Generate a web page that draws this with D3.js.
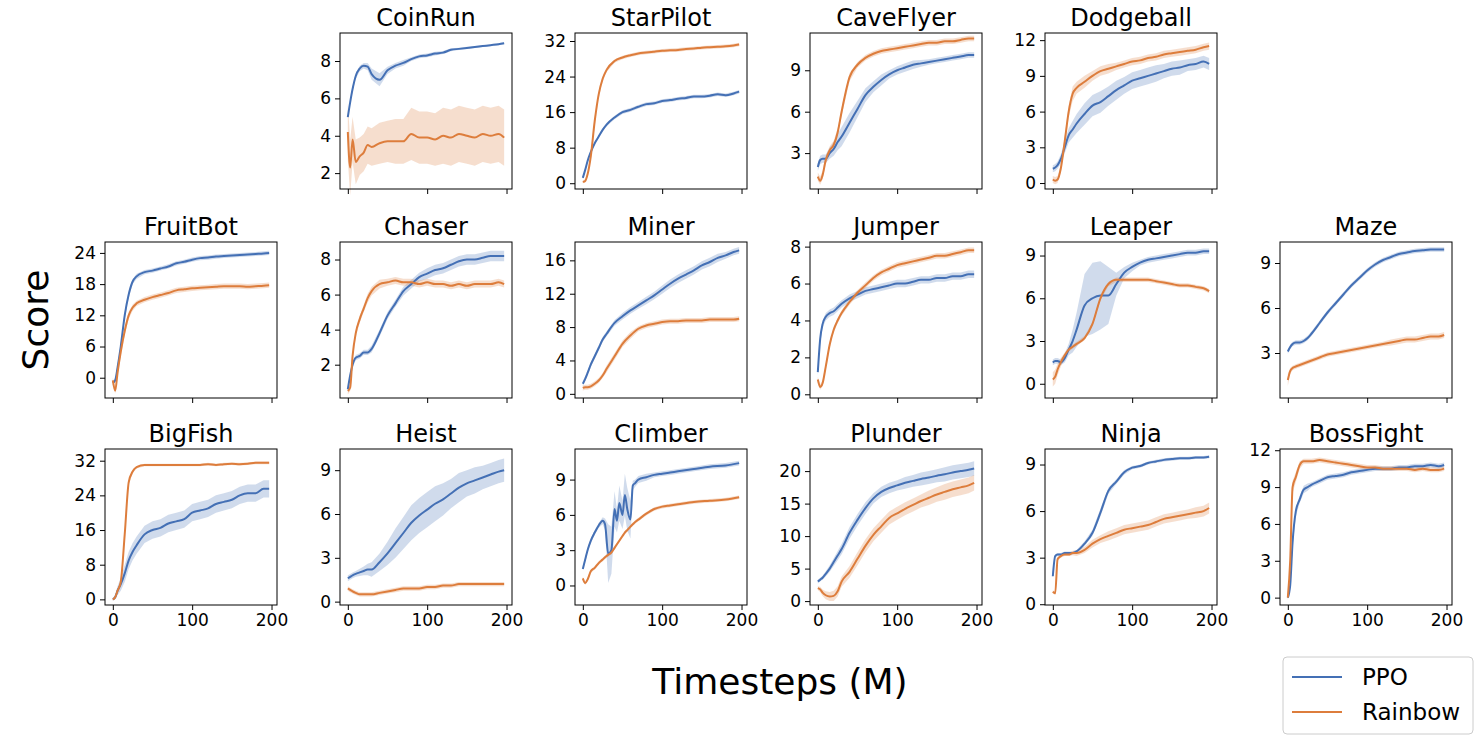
<!DOCTYPE html>
<html>
<head>
<meta charset="utf-8">
<script src="https://cdn.jsdelivr.net/npm/d3@7"></script>
<style>
  body { margin: 0; background: #fff; }
  text { font-family: "DejaVu Sans", sans-serif; fill: #000; }
</style>
</head>
<body>
<svg id="chart" width="1479" height="745"></svg>
<script>
// shared timestep grid (M)
const steps = [0, 3, 6, 10, 15, 20, 25, 30, 40, 50, 60, 70, 80, 90, 100, 110, 120, 130, 140, 150, 160, 170, 180, 190, 197];
const climberSteps = [0, 3, 6, 10, 15, 20, 25, 28, 32, 36, 40, 43, 46, 50, 53, 56, 60, 63, 66, 70, 80, 90, 100, 110, 120, 140, 160, 180, 197];

const games = ["CoinRun", "StarPilot", "CaveFlyer", "Dodgeball",
  "FruitBot", "Chaser", "Miner", "Jumper", "Leaper", "Maze",
  "BigFish", "Heist", "Climber", "Plunder", "Ninja", "BossFight"];

const yTicks = {
  CoinRun: [2, 4, 6, 8], StarPilot: [0, 8, 16, 24, 32], CaveFlyer: [3, 6, 9], Dodgeball: [0, 3, 6, 9, 12],
  FruitBot: [0, 6, 12, 18, 24], Chaser: [2, 4, 6, 8], Miner: [0, 4, 8, 12, 16], Jumper: [0, 2, 4, 6, 8],
  Leaper: [0, 3, 6, 9], Maze: [3, 6, 9], BigFish: [0, 8, 16, 24, 32], Heist: [0, 3, 6, 9],
  Climber: [0, 3, 6, 9], Plunder: [0, 5, 10, 15, 20], Ninja: [0, 3, 6, 9], BossFight: [0, 3, 6, 9, 12]
};

const yRange = {
  CoinRun: [1.15, 9.5], StarPilot: [-1.3, 33.8], CaveFlyer: [0.4, 11.7], Dodgeball: [-0.5, 12.6],
  FruitBot: [-3.9, 26.1], Chaser: [0.1, 9.0], Miner: [-0.5, 18.2], Jumper: [-0.2, 8.25],
  Leaper: [-1.0, 9.95], Maze: [0.0, 10.4], BigFish: [-1.3, 34.7], Heist: [-0.23, 10.45],
  Climber: [-1.66, 11.6], Plunder: [-0.6, 23.4], Ninja: [-0.05, 10.0], BossFight: [-0.6, 12.1]
};

// mean score and half-width of the shaded band, per game
const ppoMean = {
  CoinRun: [5.0, 5.8, 6.5, 7.2, 7.6, 7.75, 7.7, 7.3, 7.0, 7.5, 7.75, 7.9, 8.1, 8.25, 8.3, 8.4, 8.45, 8.6, 8.65, 8.7, 8.75, 8.8, 8.85, 8.9, 8.95],
  StarPilot: [1.2, 3, 5, 7, 9, 10.5, 12, 13.2, 14.8, 16, 16.5, 17.2, 17.8, 18, 18.5, 18.7, 19, 19.2, 19.5, 19.5, 19.7, 20, 19.8, 20.2, 20.6],
  CaveFlyer: [2.0, 2.5, 2.6, 2.6, 3.0, 3.3, 3.8, 4.2, 5.2, 6.2, 7.2, 7.8, 8.3, 8.7, 9.0, 9.2, 9.4, 9.5, 9.6, 9.7, 9.8, 9.9, 10, 10.1, 10.1],
  Dodgeball: [1.2, 1.3, 1.5, 2.0, 3.0, 4.0, 4.5, 5.0, 5.8, 6.5, 6.8, 7.3, 7.8, 8.2, 8.6, 8.8, 9.0, 9.2, 9.4, 9.6, 9.7, 9.9, 10, 10.2, 10.0],
  FruitBot: [-1.0, -0.5, 2, 6, 12, 16, 18.5, 19.5, 20.3, 20.6, 21.0, 21.4, 22.0, 22.3, 22.7, 23.0, 23.1, 23.3, 23.4, 23.5, 23.6, 23.7, 23.8, 23.9, 24.0],
  Chaser: [0.6, 1.4, 2.0, 2.4, 2.5, 2.7, 2.7, 2.9, 3.8, 4.8, 5.5, 6.2, 6.6, 7.0, 7.2, 7.4, 7.5, 7.7, 7.9, 8.0, 8.0, 8.1, 8.2, 8.2, 8.2],
  Miner: [1.2, 1.8, 2.5, 3.5, 4.5, 5.5, 6.5, 7.2, 8.5, 9.3, 10, 10.6, 11.2, 11.8, 12.5, 13.2, 13.8, 14.3, 14.8, 15.4, 15.8, 16.3, 16.6, 17.0, 17.2],
  Jumper: [1.2, 3.0, 3.8, 4.2, 4.4, 4.5, 4.7, 4.9, 5.2, 5.4, 5.6, 5.7, 5.8, 5.9, 6.0, 6.0, 6.1, 6.2, 6.2, 6.3, 6.3, 6.4, 6.4, 6.5, 6.5],
  Leaper: [1.5, 1.6, 1.6, 1.5, 1.8, 2.4, 3.0, 3.8, 5.5, 6.0, 6.2, 6.2, 7.0, 7.8, 8.2, 8.5, 8.7, 8.8, 8.9, 9.0, 9.1, 9.2, 9.2, 9.3, 9.3],
  Maze: [3.1, 3.4, 3.6, 3.7, 3.7, 3.8, 4.0, 4.3, 5.0, 5.7, 6.3, 6.9, 7.5, 8.0, 8.5, 8.9, 9.2, 9.4, 9.6, 9.7, 9.8, 9.85, 9.9, 9.9, 9.9],
  BigFish: [0, 0.5, 2, 3.5, 6, 9, 11, 12.5, 15, 16, 16.5, 17.5, 18, 18.5, 20, 20.5, 21, 22, 22.5, 23, 24, 24.5, 24.5, 25.5, 25.5],
  Heist: [1.6, 1.7, 1.8, 1.9, 2.0, 2.1, 2.2, 2.2, 2.7, 3.3, 4.0, 4.7, 5.4, 5.9, 6.3, 6.7, 7.0, 7.4, 7.8, 8.1, 8.3, 8.5, 8.7, 8.9, 9.0],
  Climber: [1.4, 2.2, 3.0, 3.8, 4.5, 5.1, 5.5, 5.2, 2.7, 3.0, 6.5, 5.5, 7.0, 6.0, 7.7, 6.5, 5.6, 8.5, 8.7, 9.0, 9.2, 9.4, 9.5, 9.6, 9.7, 9.9, 10.1, 10.2, 10.4],
  Plunder: [3.0, 3.3, 3.6, 4.2, 5.0, 6.0, 7.0, 8.0, 10.5, 12.5, 14.3, 15.8, 16.8, 17.4, 17.8, 18.2, 18.5, 18.8, 19.0, 19.3, 19.5, 19.8, 20.0, 20.2, 20.4],
  Ninja: [1.8, 3.1, 3.2, 3.2, 3.3, 3.3, 3.3, 3.4, 3.9, 4.6, 5.9, 7.3, 7.9, 8.5, 8.8, 8.9, 9.1, 9.2, 9.3, 9.35, 9.4, 9.4, 9.45, 9.45, 9.5],
  BossFight: [0, 1, 4.5, 7.0, 8.0, 8.8, 9.0, 9.2, 9.5, 9.8, 9.9, 10.0, 10.2, 10.3, 10.4, 10.5, 10.5, 10.5, 10.6, 10.6, 10.7, 10.7, 10.8, 10.7, 10.8]
};
const ppoBand = {
  CoinRun: [0.05, 0.1, 0.15, 0.15, 0.15, 0.15, 0.2, 0.3, 0.35, 0.2, 0.15, 0.15, 0.1, 0.1, 0.1, 0.1, 0.08, 0.08, 0.06, 0.06, 0.05, 0.05, 0.05, 0.05, 0.05],
  StarPilot: [0.3, 0.3, 0.3, 0.3, 0.3, 0.3, 0.3, 0.4, 0.4, 0.4, 0.4, 0.4, 0.4, 0.4, 0.4, 0.4, 0.4, 0.4, 0.4, 0.4, 0.4, 0.4, 0.4, 0.4, 0.4],
  CaveFlyer: [0.3, 0.3, 0.3, 0.3, 0.4, 0.5, 0.6, 0.7, 0.7, 0.6, 0.5, 0.4, 0.4, 0.3, 0.3, 0.3, 0.3, 0.25, 0.2, 0.2, 0.2, 0.2, 0.2, 0.2, 0.2],
  Dodgeball: [0.3, 0.3, 0.3, 0.4, 0.5, 0.6, 0.7, 0.8, 0.9, 0.9, 0.9, 0.8, 0.8, 0.7, 0.7, 0.7, 0.7, 0.7, 0.6, 0.6, 0.6, 0.5, 0.5, 0.5, 0.5],
  FruitBot: [0.4, 0.4, 0.5, 0.6, 0.7, 0.6, 0.5, 0.5, 0.4, 0.4, 0.4, 0.4, 0.4, 0.4, 0.4, 0.4, 0.4, 0.4, 0.4, 0.4, 0.4, 0.4, 0.4, 0.4, 0.4],
  Chaser: [0.15, 0.15, 0.15, 0.15, 0.15, 0.15, 0.15, 0.2, 0.2, 0.2, 0.2, 0.25, 0.25, 0.25, 0.3, 0.3, 0.3, 0.3, 0.3, 0.3, 0.3, 0.3, 0.3, 0.3, 0.3],
  Miner: [0.3, 0.3, 0.3, 0.3, 0.3, 0.3, 0.3, 0.3, 0.35, 0.4, 0.4, 0.4, 0.45, 0.45, 0.5, 0.5, 0.5, 0.5, 0.5, 0.5, 0.5, 0.5, 0.4, 0.4, 0.4],
  Jumper: [0.2, 0.2, 0.2, 0.2, 0.2, 0.2, 0.2, 0.2, 0.2, 0.2, 0.2, 0.2, 0.2, 0.2, 0.2, 0.2, 0.2, 0.2, 0.2, 0.2, 0.2, 0.2, 0.2, 0.2, 0.2],
  Leaper: [0.2, 0.2, 0.2, 0.2, 0.3, 0.4, 0.8, 1.2, 2.2, 2.5, 2.4, 2.0, 0.8, 0.4, 0.3, 0.2, 0.2, 0.2, 0.2, 0.2, 0.2, 0.2, 0.2, 0.2, 0.2],
  Maze: [0.15, 0.15, 0.15, 0.15, 0.15, 0.15, 0.15, 0.15, 0.15, 0.15, 0.15, 0.15, 0.15, 0.15, 0.15, 0.15, 0.15, 0.15, 0.15, 0.15, 0.15, 0.15, 0.15, 0.15, 0.15],
  BigFish: [0.3, 0.5, 1, 1.5, 2, 2, 2, 2, 2, 2, 2, 2, 2, 2, 2, 2, 2, 2, 2, 2, 2, 2, 2, 2, 2],
  Heist: [0.2, 0.2, 0.2, 0.2, 0.25, 0.3, 0.4, 0.5, 0.6, 0.8, 1.0, 1.1, 1.2, 1.2, 1.2, 1.2, 1.1, 1.0, 1.0, 0.9, 0.9, 0.8, 0.8, 0.8, 0.8],
  Climber: [0.1, 0.2, 0.2, 0.2, 0.2, 0.2, 0.3, 0.5, 2.5, 2.0, 1.5, 1.0, 1.5, 1.2, 1.8, 1.8, 1.6, 0.4, 0.3, 0.3, 0.3, 0.2, 0.2, 0.2, 0.2, 0.2, 0.2, 0.2, 0.2],
  Plunder: [0.3, 0.3, 0.3, 0.4, 0.5, 0.6, 0.7, 0.8, 0.9, 0.9, 0.9, 0.8, 0.8, 0.8, 0.8, 0.9, 0.9, 1.0, 1.0, 1.0, 1.1, 1.1, 1.1, 1.1, 1.1],
  Ninja: [0.1, 0.1, 0.1, 0.1, 0.1, 0.1, 0.1, 0.1, 0.15, 0.2, 0.25, 0.2, 0.15, 0.15, 0.1, 0.1, 0.1, 0.1, 0.1, 0.1, 0.1, 0.1, 0.1, 0.1, 0.1],
  BossFight: [0.2, 0.3, 0.5, 0.4, 0.3, 0.3, 0.3, 0.2, 0.2, 0.2, 0.2, 0.2, 0.2, 0.2, 0.2, 0.2, 0.2, 0.2, 0.2, 0.2, 0.2, 0.2, 0.2, 0.2, 0.2]
};
const rainbowMean = {
  CoinRun: [4.2, 2.3, 3.8, 2.6, 2.9, 3.1, 3.5, 3.4, 3.6, 3.7, 3.7, 3.7, 4.1, 3.9, 3.9, 3.8, 4.0, 3.9, 4.1, 4.0, 3.9, 4.1, 4.0, 4.1, 3.9],
  StarPilot: [0.3, 0.5, 2, 6, 14, 20, 23.5, 25.5, 27.5, 28.3, 28.8, 29.2, 29.4, 29.6, 29.8, 29.9, 30, 30.2, 30.3, 30.5, 30.6, 30.7, 30.8, 31, 31.2],
  CaveFlyer: [1.3, 1.0, 1.4, 2.5, 3.2, 3.6, 4.5, 6, 8.5, 9.4, 9.9, 10.2, 10.4, 10.5, 10.6, 10.7, 10.8, 10.9, 11.0, 11.0, 11.1, 11.1, 11.2, 11.3, 11.3],
  Dodgeball: [0.3, 0.2, 0.3, 1.2, 3.5, 6.0, 7.5, 8.0, 8.5, 9.0, 9.4, 9.6, 9.8, 10.0, 10.2, 10.3, 10.5, 10.6, 10.8, 10.9, 11.0, 11.1, 11.2, 11.4, 11.5],
  FruitBot: [-0.5, -2.5, 1, 5, 9, 12, 13.5, 14.3, 15.0, 15.5, 15.9, 16.3, 16.8, 17.0, 17.2, 17.3, 17.4, 17.5, 17.6, 17.6, 17.6, 17.5, 17.6, 17.7, 17.8],
  Chaser: [0.5, 0.7, 2.5, 3.8, 4.6, 5.2, 5.8, 6.2, 6.6, 6.7, 6.8, 6.7, 6.7, 6.6, 6.7, 6.6, 6.6, 6.5, 6.6, 6.5, 6.6, 6.6, 6.6, 6.7, 6.6],
  Miner: [0.7, 0.8, 0.8, 0.9, 1.2, 1.6, 2.2, 3.0, 4.5, 6.0, 7.0, 7.8, 8.2, 8.4, 8.6, 8.7, 8.7, 8.8, 8.8, 8.8, 8.9, 8.9, 8.9, 8.9, 9.0],
  Jumper: [0.8, 0.4, 0.6, 1.5, 2.7, 3.5, 4.0, 4.4, 5.0, 5.5, 5.9, 6.3, 6.6, 6.8, 7.0, 7.1, 7.2, 7.3, 7.4, 7.5, 7.5, 7.6, 7.7, 7.8, 7.8],
  Leaper: [0.3, 0.5, 1.0, 1.5, 2.0, 2.4, 2.6, 2.8, 3.2, 4.2, 6.0, 7.0, 7.3, 7.3, 7.3, 7.3, 7.3, 7.2, 7.1, 7.0, 6.9, 6.9, 6.8, 6.7, 6.5],
  Maze: [1.2, 1.8, 2.0, 2.1, 2.2, 2.3, 2.4, 2.5, 2.7, 2.9, 3.0, 3.1, 3.2, 3.3, 3.4, 3.5, 3.6, 3.7, 3.8, 3.9, 3.9, 4.0, 4.1, 4.1, 4.2],
  BigFish: [0, 0.5, 2, 4, 15, 27, 29.5, 30.5, 31, 31, 31, 31, 31, 31, 31, 31, 31.2, 31, 31.2, 31.3, 31.2, 31.3, 31.5, 31.5, 31.5],
  Heist: [0.9, 0.8, 0.7, 0.6, 0.5, 0.5, 0.5, 0.5, 0.6, 0.7, 0.8, 0.9, 0.9, 0.9, 1.0, 1.0, 1.1, 1.1, 1.2, 1.2, 1.2, 1.2, 1.2, 1.2, 1.2],
  Climber: [0.6, 0.2, 0.5, 1.2, 1.5, 1.9, 2.2, 2.4, 2.6, 2.8, 3.2, 3.5, 3.8, 4.2, 4.5, 4.7, 5.0, 5.2, 5.4, 5.6, 6.1, 6.5, 6.7, 6.8, 6.9, 7.1, 7.2, 7.3, 7.5],
  Plunder: [2.0, 1.8, 1.3, 0.9, 0.7, 0.8, 1.5, 3.0, 4.5, 6.5, 8.5, 10.2, 11.5, 12.8, 13.5, 14.2, 14.8, 15.4, 15.9, 16.4, 16.8, 17.2, 17.5, 17.8, 18.2],
  Ninja: [0.8, 0.7, 2.9, 3.1, 3.2, 3.2, 3.3, 3.3, 3.5, 3.9, 4.2, 4.4, 4.6, 4.8, 4.9, 5.0, 5.1, 5.3, 5.5, 5.6, 5.7, 5.8, 5.9, 6.0, 6.2],
  BossFight: [0, 3, 9.0, 9.8, 10.8, 11.1, 11.1, 11.1, 11.2, 11.1, 11.0, 10.9, 10.8, 10.7, 10.6, 10.6, 10.5, 10.5, 10.5, 10.5, 10.4, 10.5, 10.4, 10.4, 10.5]
};
const rainbowBand = {
  CoinRun: [1.5, 1.5, 1.2, 1.2, 1.0, 1.0, 1.0, 1.0, 1.1, 1.1, 1.2, 1.2, 1.4, 1.4, 1.4, 1.4, 1.5, 1.5, 1.5, 1.5, 1.5, 1.5, 1.5, 1.5, 1.5],
  StarPilot: [0.3, 0.4, 0.5, 0.8, 1.0, 0.8, 0.6, 0.5, 0.4, 0.4, 0.4, 0.4, 0.4, 0.4, 0.4, 0.4, 0.4, 0.4, 0.4, 0.4, 0.4, 0.4, 0.4, 0.4, 0.4],
  CaveFlyer: [0.3, 0.3, 0.3, 0.3, 0.3, 0.3, 0.3, 0.3, 0.3, 0.2, 0.2, 0.2, 0.2, 0.2, 0.2, 0.2, 0.2, 0.2, 0.2, 0.2, 0.2, 0.2, 0.2, 0.2, 0.2],
  Dodgeball: [0.3, 0.3, 0.3, 0.3, 0.4, 0.5, 0.6, 0.5, 0.5, 0.4, 0.4, 0.4, 0.3, 0.3, 0.3, 0.3, 0.3, 0.3, 0.3, 0.3, 0.3, 0.3, 0.3, 0.3, 0.3],
  FruitBot: [0.5, 0.6, 0.7, 0.8, 0.8, 0.7, 0.6, 0.5, 0.5, 0.5, 0.5, 0.5, 0.5, 0.5, 0.5, 0.5, 0.5, 0.5, 0.5, 0.5, 0.5, 0.5, 0.5, 0.5, 0.5],
  Chaser: [0.2, 0.2, 0.2, 0.2, 0.2, 0.2, 0.25, 0.25, 0.25, 0.2, 0.2, 0.2, 0.2, 0.2, 0.2, 0.2, 0.2, 0.2, 0.2, 0.2, 0.2, 0.2, 0.2, 0.2, 0.2],
  Miner: [0.3, 0.3, 0.3, 0.3, 0.3, 0.3, 0.3, 0.4, 0.4, 0.4, 0.4, 0.3, 0.3, 0.3, 0.3, 0.3, 0.3, 0.3, 0.3, 0.3, 0.3, 0.3, 0.3, 0.3, 0.3],
  Jumper: [0.15, 0.15, 0.15, 0.15, 0.15, 0.15, 0.15, 0.15, 0.15, 0.15, 0.15, 0.15, 0.15, 0.15, 0.15, 0.15, 0.15, 0.15, 0.15, 0.15, 0.15, 0.15, 0.15, 0.15, 0.15],
  Leaper: [0.5, 0.5, 0.4, 0.3, 0.2, 0.15, 0.15, 0.15, 0.15, 0.15, 0.15, 0.15, 0.15, 0.15, 0.15, 0.15, 0.15, 0.15, 0.15, 0.15, 0.15, 0.15, 0.15, 0.15, 0.15],
  Maze: [0.4, 0.2, 0.15, 0.15, 0.15, 0.15, 0.15, 0.15, 0.15, 0.15, 0.15, 0.15, 0.15, 0.15, 0.15, 0.15, 0.15, 0.2, 0.2, 0.2, 0.2, 0.2, 0.2, 0.2, 0.2],
  BigFish: [0.3, 0.3, 0.3, 0.3, 0.5, 0.5, 0.4, 0.3, 0.3, 0.3, 0.3, 0.3, 0.3, 0.3, 0.3, 0.3, 0.3, 0.3, 0.3, 0.3, 0.3, 0.3, 0.3, 0.3, 0.3],
  Heist: [0.15, 0.15, 0.15, 0.15, 0.15, 0.15, 0.15, 0.15, 0.15, 0.15, 0.15, 0.15, 0.15, 0.15, 0.15, 0.15, 0.15, 0.15, 0.15, 0.15, 0.15, 0.15, 0.15, 0.15, 0.15],
  Climber: [0.15, 0.15, 0.15, 0.15, 0.15, 0.15, 0.15, 0.15, 0.15, 0.15, 0.15, 0.15, 0.15, 0.15, 0.15, 0.15, 0.15, 0.15, 0.15, 0.15, 0.15, 0.15, 0.15, 0.15, 0.15, 0.15, 0.15, 0.15, 0.15],
  Plunder: [0.3, 0.4, 0.5, 0.6, 0.7, 0.8, 0.8, 0.8, 0.9, 1, 1, 1, 1, 1, 1, 1, 1, 1, 1.1, 1.1, 1.2, 1.2, 1.2, 1.2, 1.2],
  Ninja: [0.1, 0.1, 0.1, 0.1, 0.1, 0.1, 0.15, 0.2, 0.2, 0.25, 0.25, 0.3, 0.3, 0.3, 0.3, 0.3, 0.3, 0.3, 0.3, 0.3, 0.3, 0.3, 0.35, 0.35, 0.35],
  BossFight: [0.2, 0.4, 0.5, 0.4, 0.3, 0.2, 0.2, 0.2, 0.2, 0.2, 0.2, 0.2, 0.2, 0.2, 0.2, 0.2, 0.2, 0.2, 0.2, 0.2, 0.2, 0.2, 0.2, 0.2, 0.2]
};

const xTicks = [0, 100, 200];
const series = ["PPO", "Rainbow"];
const colors = { PPO: "#4470b5", Rainbow: "#dd7d3c" };

// grid placement: [row, col]
const place = {
  CoinRun: [0, 1], StarPilot: [0, 2], CaveFlyer: [0, 3], Dodgeball: [0, 4],
  FruitBot: [1, 0], Chaser: [1, 1], Miner: [1, 2], Jumper: [1, 3], Leaper: [1, 4], Maze: [1, 5],
  BigFish: [2, 0], Heist: [2, 1], Climber: [2, 2], Plunder: [2, 3], Ninja: [2, 4], BossFight: [2, 5]
};

const W = 172, H = 156;
const colX = [105, 340, 575, 810, 1045, 1280];
const rowY = [33, 242, 449];

const svg = d3.select("#chart");

games.forEach(game => {
  const [r, c] = place[game];
  const g = svg.append("g").attr("transform", `translate(${colX[c]},${rowY[r]})`);
  const xs = game === "Climber" ? climberSteps : steps;

  const x = d3.scaleLinear().domain([-9.85, 206.9]).range([0, W]);
  const y = d3.scaleLinear().domain(yRange[game]).range([H, 0]);

  const sets = [
    { name: "PPO", mean: ppoMean[game], band: ppoBand[game] },
    { name: "Rainbow", mean: rainbowMean[game], band: rainbowBand[game] }
  ];

  sets.forEach(s => {
    const pts = xs.map((t, i) => ({ t, m: s.mean[i], b: s.band[i] }));
    g.append("path")
      .attr("d", d3.area().x(d => x(d.t)).y0(d => y(d.m - d.b)).y1(d => y(d.m + d.b))(pts))
      .attr("fill", colors[s.name])
      .attr("opacity", 0.25);
  });
  sets.forEach(s => {
    const pts = xs.map((t, i) => ({ t, m: s.mean[i] }));
    g.append("path")
      .attr("d", d3.line().x(d => x(d.t)).y(d => y(d.m)).curve(d3.curveMonotoneX)(pts))
      .attr("fill", "none")
      .attr("stroke", colors[s.name])
      .attr("stroke-width", 2);
  });

  g.append("rect").attr("width", W).attr("height", H)
    .attr("fill", "none").attr("stroke", "#000").attr("stroke-width", 1);

  const yAxis = g.append("g").call(d3.axisLeft(y).tickValues(yTicks[game]).tickSize(5).tickPadding(4));
  const xAxis = g.append("g").attr("transform", `translate(0,${H})`)
    .call(d3.axisBottom(x).tickValues(xTicks).tickSize(5).tickPadding(4)
      .tickFormat(r === 2 ? d3.format("d") : () => ""));
  [yAxis, xAxis].forEach(a => {
    a.select(".domain").remove();
    a.selectAll("text").attr("font-size", 17).attr("font-family", "DejaVu Sans");
  });

  g.append("text").attr("x", W / 2).attr("y", -7)
    .attr("text-anchor", "middle").attr("font-size", 24).text(game);
});

svg.append("text").attr("transform", "translate(48,320) rotate(-90)")
  .attr("text-anchor", "middle").attr("font-size", 36).text("Score");
svg.append("text").attr("x", 780).attr("y", 694)
  .attr("text-anchor", "middle").attr("font-size", 36).text("Timesteps (M)");

const legend = svg.append("g").attr("transform", "translate(1283,657)");
legend.append("rect").attr("width", 190).attr("height", 77).attr("rx", 4)
  .attr("fill", "#fff").attr("stroke", "#ccc");
series.forEach((s, i) => {
  const ly = 20 + i * 35;
  legend.append("line").attr("x1", 9).attr("x2", 59).attr("y1", ly).attr("y2", ly)
    .attr("stroke", colors[s]).attr("stroke-width", 2);
  legend.append("text").attr("x", 79).attr("y", ly + 8).attr("font-size", 23).text(s);
});
</script>
</body>
</html>
